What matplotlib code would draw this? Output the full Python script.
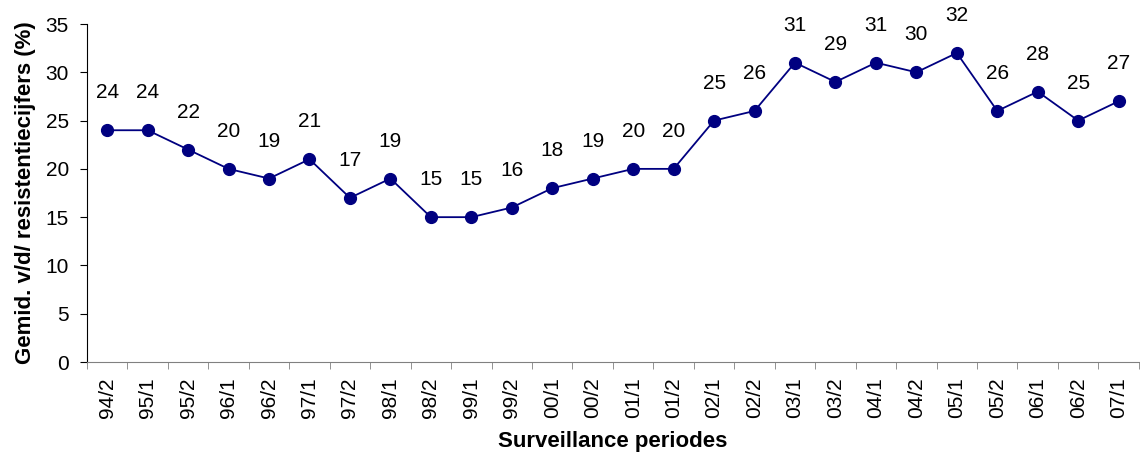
import matplotlib.pyplot as plt
from matplotlib.ticker import MultipleLocator, FixedLocator

plt.rcParams['font.family'] = ['Liberation Sans', 'DejaVu Sans']

periods = ['94/2', '95/1', '95/2', '96/1', '96/2', '97/1', '97/2', '98/1', '98/2',
           '99/1', '99/2', '00/1', '00/2', '01/1', '01/2', '02/1', '02/2', '03/1',
           '03/2', '04/1', '04/2', '05/1', '05/2', '06/1', '06/2', '07/1']
rates = [24, 24, 22, 20, 19, 21, 17, 19, 15, 15, 16, 18, 19, 20, 20, 25, 26, 31,
         29, 31, 30, 32, 26, 28, 25, 27]

navy = '#000080'
x = list(range(len(periods)))

fig = plt.figure(figsize=(11.4, 4.54), dpi=100)
ax = fig.add_axes([0.0763, 0.2026, 0.9227, 0.7445])

ax.plot(x, rates, color=navy, linewidth=1.3, marker='o', markersize=8.5)

for xi, v in zip(x, rates):
    ax.annotate(str(v), (xi, v), xytext=(0, 27), textcoords='offset points',
                ha='center', va='center', fontsize=15)

ax.set_xlim(-0.5, len(periods) - 0.5)
ax.set_ylim(0, 35)
ax.yaxis.set_major_locator(MultipleLocator(5))

ax.set_xticks(x)
ax.set_xticklabels(periods, rotation=90)
ax.xaxis.set_minor_locator(FixedLocator([i - 0.5 for i in range(len(periods) + 1)]))
ax.tick_params(axis='x', which='major', length=0, pad=11, labelsize=15)
ax.tick_params(axis='x', which='minor', length=5, direction='out', color='#808080')
ax.tick_params(axis='y', length=5, direction='out', labelsize=15, pad=8)

ax.spines['top'].set_visible(False)
ax.spines['right'].set_visible(False)
ax.spines['bottom'].set_color('#808080')
ax.spines['left'].set_color('black')

ax.set_xlabel('Surveillance periodes', fontsize=16, fontweight='bold', labelpad=9)
ax.set_ylabel('Gemid. v/d/ resistentiecijfers (%)', fontsize=16, fontweight='bold', labelpad=7)

fig.savefig('out.png', dpi=100)
